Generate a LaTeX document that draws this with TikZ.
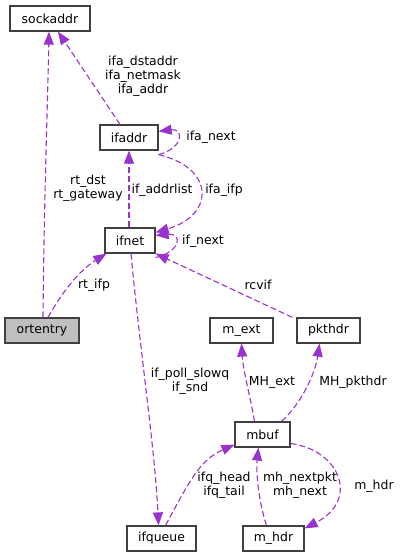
\documentclass[tikz,border=0pt]{standalone}
\usepackage{fontspec}
\setmainfont{DejaVu Sans}
\usepackage{xcolor}
\usetikzlibrary{arrows.meta}
\definecolor{relcol}{HTML}{9A32CD}
\definecolor{boxcol}{HTML}{404040}
\definecolor{hicol}{HTML}{BFBFBF}

\begin{document}
\begin{tikzpicture}[x=1bp,y=-1bp,
  font=\fontsize{12.5}{14}\selectfont,
  cls/.style={draw=boxcol,line width=1.2bp,fill=white,minimum height=25bp,inner sep=0pt},
  rel/.style={draw=relcol,line width=1.1bp,dash pattern=on 6bp off 3bp,
    -{Triangle[length=13bp,width=10bp,fill=relcol]}},
  lbl/.style={inner sep=0pt,align=center,text=black}]
        \useasboundingbox (0,0) rectangle (401,557);
        % classes
        \node at (50,18.5) [cls,minimum width=80bp] (sockaddr) {sockaddr};
        \node at (129,137.5) [cls,minimum width=58bp] (ifaddr) {ifaddr};
        \node at (130,240.5) [cls,minimum width=50bp] (ifnet) {ifnet};
        \node at (42,330.5) [cls,fill=hicol,minimum width=74bp] (ortentry) {ortentry};
        \node at (241.5,330.5) [cls,minimum width=63bp] (mext) {m\_ext};
        \node at (328.5,330.5) [cls,minimum width=63bp] (pkthdr) {pkthdr};
        \node at (262.5,434.5) [cls,minimum width=55bp] (mbuf) {mbuf};
        \node at (161.5,538.5) [cls,minimum width=69bp] (ifqueue) {ifqueue};
        \node at (273.5,538.5) [cls,minimum width=61bp] (mhdr) {m\_hdr};

        % relations
        \draw[rel] ([xshift=1bp]ortentry.north) .. controls (44,200) and (48,90) .. ([xshift=-1bp]sockaddr.south);
        \draw[rel] ([xshift=-9bp]ifaddr.north) -- ([xshift=8bp]sockaddr.south);
        \draw[rel] ([yshift=-4bp]ifaddr.south east) .. controls (184,148) and (184,128) .. ([yshift=-7bp]ifaddr.north east);
        \draw[rel] ([yshift=-4bp]ifaddr.south east) .. controls (215,168) and (215,215) .. ([yshift=-5bp]ifnet.north east);
        \draw[rel] ([xshift=-1bp]ifnet.north) -- ([xshift=0bp]ifaddr.south);
        \draw[rel] ([yshift=-4bp]ifnet.south east) .. controls (182,251) and (182,233) .. ([yshift=-8bp]ifnet.north east);
        \draw[rel] ([xshift=6bp]ortentry.north) .. controls (62,292) and (80,270) .. ([xshift=2bp]ifnet.south west);
        \draw[rel] ([xshift=-4bp]pkthdr.north west) -- (ifnet.south east);
        \draw[rel] ([xshift=1bp]ifnet.south) .. controls (140,350) and (155,450) .. ([xshift=-3bp]ifqueue.north);
        \draw[rel] ([xshift=-8bp]mbuf.north) .. controls (250,395) and (243,370) .. (mext.south);
        \draw[rel] ([xshift=19bp]mbuf.north) .. controls (300,405) and (315,375) .. ([xshift=-9bp]pkthdr.south);
        \draw[rel] ([xshift=4bp]ifqueue.north) .. controls (190,480) and (200,460) .. ([yshift=3bp]mbuf.south west);
        \draw[rel] ([xshift=-7bp]mhdr.north) .. controls (258,500) and (256,470) .. ([xshift=-4bp]mbuf.south);
        \draw[rel] ([yshift=-9bp]mbuf.east) .. controls (340,450) and (360,500) .. ([yshift=-3bp]mhdr.north east);

        % labels
        \node[lbl] (lsock) at (88,188) {rt\_dst\\rt\_gateway};
        \node[lbl] (lifa) at (143,76) {ifa\_dstaddr\\ifa\_netmask\\ifa\_addr};
        \node[lbl] (lnext) at (211,137) {ifa\_next};
        \node[lbl] (lifp) at (224,190) {ifa\_ifp};
        \node[lbl] (laddr) at (162,190) {if\_addrlist};
        \node[lbl] (lifnext) at (203,241) {if\_next};
        \node[lbl] (lrtifp) at (94,285) {rt\_ifp};
        \node[lbl] (lrcv) at (258,285) {rcvif};
        \node[lbl] (lsnd) at (190,381) {if\_poll\_slowq\\if\_snd};
        \node[lbl] (lext) at (272,382) {MH\_ext};
        \node[lbl] (lpkt) at (353,382) {MH\_pkthdr};
        \node[lbl] (lq) at (224,485) {ifq\_head\\ifq\_tail};
        \node[lbl] (lmh) at (300,485) {mh\_nextpkt\\mh\_next};
        \node[lbl] (lhdr) at (374,486) {m\_hdr};
\end{tikzpicture}
\end{document}
